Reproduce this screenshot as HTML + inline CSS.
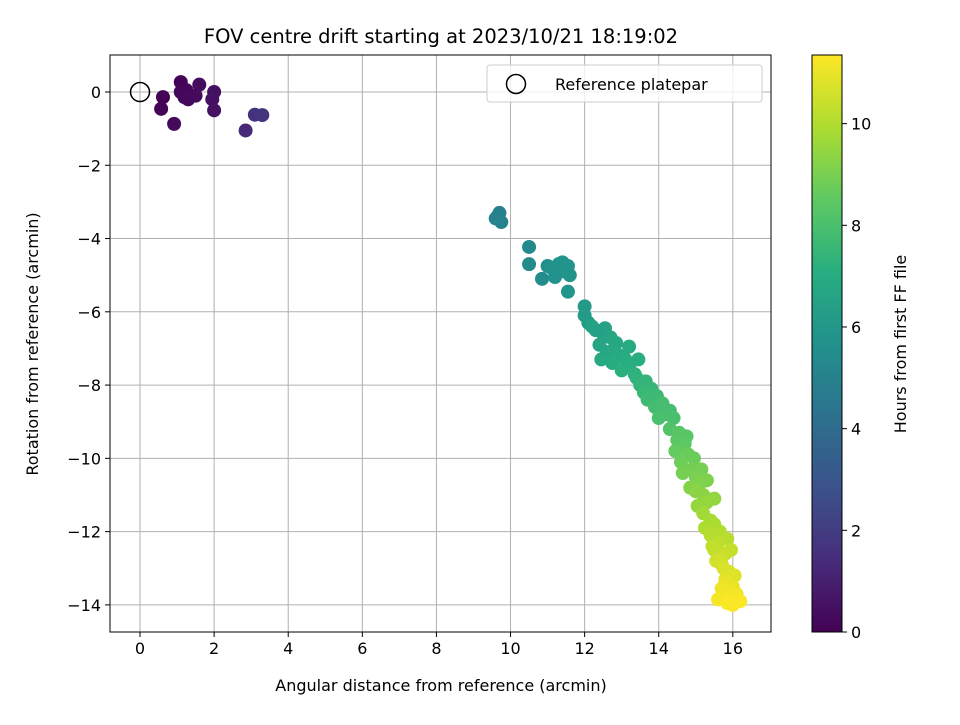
<!DOCTYPE html>
<html><head><meta charset="utf-8"><style>
body{margin:0;background:#fff;}
svg text{font-family:"DejaVu Sans","Liberation Sans",sans-serif;fill:#000;}
</style></head><body>
<svg id="chart" width="960" height="720" xmlns="http://www.w3.org/2000/svg">
<defs><linearGradient id="vir" x1="0" y1="1" x2="0" y2="0">
<stop offset="0" stop-color="#440154"/><stop offset="0.125" stop-color="#472d7b"/><stop offset="0.25" stop-color="#3b528b"/><stop offset="0.375" stop-color="#2c728e"/><stop offset="0.5" stop-color="#21918c"/><stop offset="0.625" stop-color="#28ae80"/><stop offset="0.75" stop-color="#5ec962"/><stop offset="0.875" stop-color="#addc30"/><stop offset="1" stop-color="#fde725"/>
</linearGradient></defs>
<text x="441" y="43" font-size="19.5" text-anchor="middle">FOV centre drift starting at 2023/10/21 18:19:02</text>
<g id="grid"></g>
<g id="marks"></g>
<rect x="110" y="55" width="661" height="577" fill="none" stroke="#000" stroke-width="1"/>
<g id="xticks"></g><g id="yticks"></g>
<text x="441" y="691" font-size="16" text-anchor="middle">Angular distance from reference (arcmin)</text>
<text transform="translate(38,344) rotate(-90)" font-size="16" text-anchor="middle">Rotation from reference (arcmin)</text>
<g>
<rect x="487" y="65" width="275" height="37" rx="3" fill="#fff" fill-opacity="0.8" stroke="#ccc"/>
<circle cx="516" cy="84" r="9.5" fill="none" stroke="#000" stroke-width="1.5"/>
<text x="555" y="90" font-size="16">Reference platepar</text>
</g>
<rect x="812" y="55" width="30" height="577" fill="url(#vir)" stroke="#000" stroke-width="1"/>
<g id="cticks"></g>
<text transform="translate(906,344) rotate(-90)" font-size="16" text-anchor="middle">Hours from first FF file</text>
</svg>
<script>
const xTicks=[0,2,4,6,8,10,12,14,16];
const yTicks=[0,-2,-4,-6,-8,-10,-12,-14];
const cTicks=[0,2,4,6,8,10];
const refPoint=[0,0];
const xs=[1.1,1.1,0.92,0.62,0.57,1.2,1.3,1.5,1.6,2.0,1.95,2.0,1.25,2.85,3.1,3.3,
9.65,9.7,9.75,9.6,10.5,10.5,10.85,11.0,11.15,11.3,11.4,11.55,11.6,11.2,11.55,
12.0,12.0,12.1,12.3,12.5,12.4,12.6,12.7,12.8,12.95,13.1,13.0,13.2,13.4,13.5,13.6,13.8,13.7,13.9,14.0,14.2,14.4,14.3,14.5,14.6,14.7,14.8,14.6,14.9,15.0,15.1,15.0,15.2,15.3,15.2,15.4,15.5,15.4,15.6,15.5,15.7,15.8,15.7,15.9,15.8,16.0,16.1,15.6,15.9,16.1,15.8,16.0,16.2,
11.3,11.45,11.1,12.2,12.55,12.85,12.45,13.2,12.75,13.45,13.35,13.65,13.95,14.1,14.3,14.55,14.75,14.45,14.95,14.65,15.15,14.85,15.3,15.05,15.5,15.25,15.65,15.45,15.85,15.55,15.95,15.75,16.05,15.8,15.95,15.7,16.0,15.85];
const ys=[0.27,0,-0.87,-0.14,-0.46,-0.14,-0.2,-0.1,0.2,0,-0.2,-0.5,0.05,-1.05,-0.62,-0.63,
-3.4,-3.3,-3.55,-3.45,-4.23,-4.7,-5.1,-4.75,-4.8,-4.7,-4.65,-4.75,-5.0,-5.05,-5.45,
-5.85,-6.1,-6.3,-6.5,-6.6,-6.9,-7.1,-6.7,-7.0,-7.2,-7.3,-7.6,-7.5,-7.8,-8.0,-8.2,-8.1,-8.4,-8.6,-8.9,-8.8,-8.9,-9.2,-9.5,-9.7,-9.6,-9.9,-10.1,-10.3,-10.5,-10.7,-10.9,-11.0,-11.2,-11.5,-11.7,-11.8,-12.1,-12.3,-12.5,-12.7,-12.6,-12.9,-13.1,-13.3,-13.5,-13.7,-13.85,-13.9,-13.8,-13.6,-14.0,-13.9,
-4.85,-4.9,-4.8,-6.4,-6.45,-6.85,-7.3,-6.95,-7.4,-7.3,-7.7,-7.9,-8.3,-8.5,-8.7,-9.3,-9.4,-9.8,-10.0,-10.4,-10.3,-10.8,-10.6,-11.3,-11.1,-11.9,-12.0,-12.4,-12.2,-12.8,-12.5,-13.0,-13.2,-13.4,-13.65,-13.55,-13.75,-13.95];
const hours=[0.1,0.15,0.3,0.05,0.1,0.2,0.25,0.3,0.35,0.45,0.5,0.55,0.2,1.3,1.6,1.7,
4.9,4.95,5.0,4.9,5.3,5.35,5.5,5.6,5.65,5.7,5.75,5.8,5.85,5.7,5.9,
6.1,6.15,6.25,6.4,6.5,6.6,6.7,6.65,6.8,6.9,7.0,7.15,7.1,7.3,7.4,7.55,7.5,7.7,7.8,8.0,7.95,8.0,8.2,8.4,8.5,8.45,8.7,8.8,8.9,9.0,9.15,9.3,9.35,9.5,9.7,9.8,9.9,10.05,10.2,10.3,10.45,10.4,10.6,10.75,10.85,11.0,11.1,11.2,11.25,11.2,11.1,11.3,11.3,
5.75,5.8,5.7,6.45,6.5,6.75,6.85,6.9,6.95,7.05,7.25,7.4,7.65,7.85,7.9,8.3,8.35,8.6,8.75,8.95,8.95,9.2,9.1,9.5,9.45,9.95,10.0,10.25,10.1,10.55,10.35,10.7,10.8,11.0,11.15,11.1,11.25,11.3];
const X0=110,X1=771,Y0=55,Y1=632,xmin=-0.81,xmax=17.03,ymin=-14.74,ymax=1.01,cmax=11.35;
const sx=v=>X0+(v-xmin)/(xmax-xmin)*(X1-X0);
const sy=v=>Y1-(v-ymin)/(ymax-ymin)*(Y1-Y0);
const sc=v=>632-v/cmax*577;
const NS='http://www.w3.org/2000/svg';
const vir=[[68,1,84],[71,45,123],[59,82,139],[44,114,142],[33,145,140],[40,174,128],[94,201,98],[173,220,48],[253,231,37]];
function col(h){let t=Math.max(0,Math.min(1,h/cmax))*8;let i=Math.min(7,Math.floor(t)),f=t-i;const a=vir[i],b=vir[i+1];return 'rgb('+a.map((c,k)=>Math.round(c+(b[k]-c)*f)).join(',')+')';}
function mk(tag,at,parent){const e=document.createElementNS(NS,tag);for(const k in at)e.setAttribute(k,at[k]);document.getElementById(parent).appendChild(e);return e;}
xTicks.forEach(v=>{const x=sx(v);
const g=mk('line',{x1:x,x2:x,y1:Y0,y2:Y1,stroke:'#b0b0b0','stroke-width':1},'grid');


mk('line',{x1:x,x2:x,y1:Y1,y2:Y1+5,stroke:'#000'},'xticks');
const t=mk('text',{x:x,y:Y1+22,'font-size':16,'text-anchor':'middle'},'xticks');t.textContent=v;

});
yTicks.forEach(v=>{const y=sy(v);
const g=mk('line',{x1:X0,x2:X1,y1:y,y2:y,stroke:'#b0b0b0','stroke-width':1},'grid');


mk('line',{x1:X0-5,x2:X0,y1:y,y2:y,stroke:'#000'},'yticks');
const t=mk('text',{x:X0-9,y:y+6,'font-size':16,'text-anchor':'end'},'yticks');t.textContent=(v<0?'\u2212'+(-v):v);

});
cTicks.forEach(v=>{const y=sc(v);
mk('line',{x1:842,x2:847,y1:y,y2:y,stroke:'#000'},'cticks');
const t=mk('text',{x:851,y:y+6,'font-size':16},'cticks');t.textContent=v;

});
const order=xs.map((x,i)=>i).sort((a,b)=>hours[a]-hours[b]);
order.forEach(i=>{const c=mk('circle',{cx:sx(xs[i]),cy:sy(ys[i]),r:7,fill:col(hours[i])},'marks');

});
const r=mk('circle',{cx:sx(refPoint[0]),cy:sy(refPoint[1]),r:9.5,fill:'none',stroke:'#000','stroke-width':1.5},'marks');


</script>
</body></html>
